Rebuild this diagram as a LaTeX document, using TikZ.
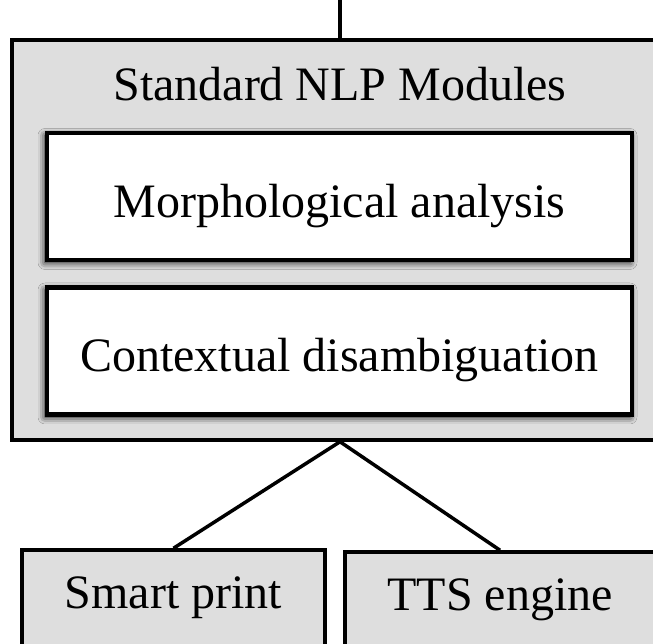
\documentclass[tikz,border=0pt]{standalone}
\usepackage{fontspec}
\setmainfont{Liberation Serif}
\usepackage{xcolor}
\usetikzlibrary{positioning, shadows.blur}

\definecolor{panelgray}{RGB}{222,222,222}

\begin{document}
\begin{tikzpicture}[
    x=1pt, y=1pt,
    group/.style={rectangle, draw, line width=3.5pt, fill=panelgray, inner sep=0pt, minimum width=656pt, minimum height=400pt},
    module/.style={rectangle, draw, line width=4.5pt, fill=white, inner sep=0pt, minimum width=585pt, minimum height=127pt,
        text height=52pt, text depth=10pt,
        blur shadow={shadow xshift=-2pt, shadow yshift=-2.5pt, shadow blur radius=7pt, shadow opacity=100}},
    output/.style={rectangle, draw, line width=3.5pt, fill=panelgray, inner sep=0pt, minimum height=96pt},
    link/.style={line width=3.5pt},
    font=\fontsize{48}{56}\selectfont
]
\useasboundingbox (0,0) rectangle (653,644);
\clip (0,0) rectangle (653,644);
\fill[white] (0,0) rectangle (653,644);

% Module group
\coordinate (in) at (340,644);
\node[group] (nlp) at (340,404) {};
\node (title) at (340,560) {Standard NLP Modules};
\node[module] (morph) at (339.5,447.5) {Morphological analysis};
\node[module, below=23pt of morph] (context) {Contextual disambiguation};

% Output nodes
\node[output, minimum width=303pt] (print) at (173.5,46) {Smart print};
\node[output, minimum width=310pt] (tts) at (500,44) {TTS engine};

% Connections
\draw[link] (in) -- (nlp.north);
\draw[link] (nlp.south) -- (print.north);
\draw[link] (nlp.south) -- (tts.north);

\end{tikzpicture}
\end{document}
